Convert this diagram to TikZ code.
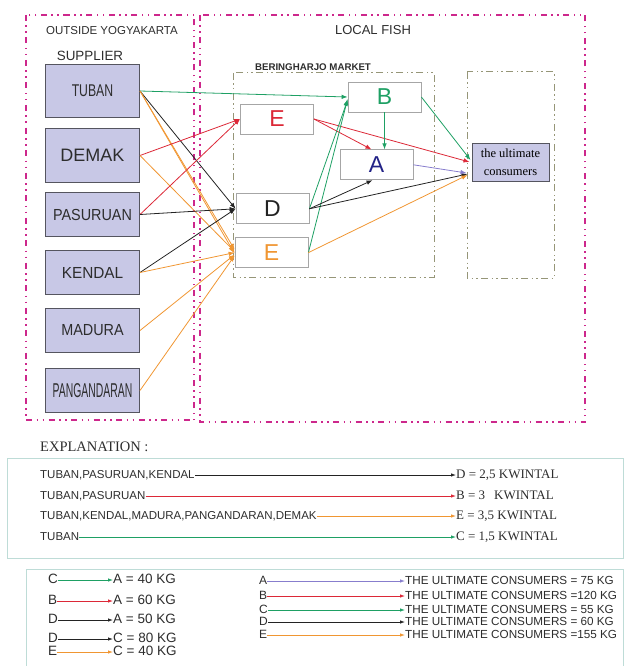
\documentclass[tikz,border=0pt]{standalone}
\usepackage{fontspec}
\setmainfont{Liberation Sans}
\newfontfamily\serifface{Liberation Serif}
\usetikzlibrary{arrows.meta,positioning}
\newcommand{\fsize}[1]{\fontsize{#1}{#1}\selectfont}
\newcommand{\narrow}[2]{\scalebox{#1}[1]{#2}}
\definecolor{lavender}{RGB}{200, 200, 230}
\definecolor{boxline}{RGB}{85, 85, 95}
\definecolor{green}{RGB}{30, 160, 100}
\definecolor{red}{RGB}{220, 40, 55}
\definecolor{orange}{RGB}{240, 150, 50}
\definecolor{darkline}{RGB}{35, 35, 35}
\definecolor{lilac}{RGB}{135, 125, 205}
\definecolor{navy}{RGB}{35, 35, 135}
\definecolor{pinkline}{RGB}{205, 40, 140}
\definecolor{marketline}{RGB}{150, 150, 120}
\definecolor{legendline}{RGB}{190, 220, 215}
\definecolor{textgray}{RGB}{45, 45, 45}
\tikzstyle{supplier} = [rectangle, draw=boxline, line width=1pt, fill=lavender, text=textgray, minimum width=94pt, minimum height=44pt, inner sep=0pt, anchor=north west]
\tikzstyle{stage} = [rectangle, draw=gray!70, line width=0.8pt, fill=white, minimum width=73pt, minimum height=30pt, inner sep=0pt, font=\fsize{23}]
\tikzstyle{region} = [draw=pinkline, line width=1.4pt, dash pattern=on 6pt off 4.5pt on 1.5pt off 4.5pt on 1.5pt off 4.5pt]
\tikzstyle{market} = [draw=marketline, line width=1pt, dash pattern=on 7pt off 3.5pt on 1.5pt off 3pt on 1.5pt off 3.5pt]
\tikzstyle{heading} = [inner sep=0pt, text=textgray]
\tikzstyle{tedge} = [draw, line width=0.8pt, -{Latex[length=6pt,width=4.5pt]}]
\tikzstyle{kedge} = [draw, line width=0.8pt, -{Latex[length=5pt,width=3.5pt]}]
\tikzstyle{keytext} = [inner sep=0pt, anchor=west, text=textgray, text height=8pt, text depth=1pt]

\begin{document}
\begin{tikzpicture}[x=1pt, y=-1pt]
\useasboundingbox (0,0) rectangle (624,666);

% regions =============================
\path[region] (26,15) rectangle (194,420);
\path[region] (200,15) rectangle (585,422);
\path[market] (233,73) rectangle (434,277);
\path[market] (467,72) rectangle (554,278);

\node[heading, font=\fsize{11.5}] (outside) at (112,31) {OUTSIDE YOGYAKARTA};
\node[heading, font=\fsize{13.4}] (supplier-title) at (90,56) {SUPPLIER};
\node[heading, font=\fsize{13}] (local) at (373,30) {LOCAL FISH};
\node[heading, font=\bfseries\fsize{9.7}] (market-title) at (313,67) {BERINGHARJO MARKET};

% Suppliers =============================
\node[supplier, minimum height=53pt, font=\fsize{17}] (tuban) at (45,64) {\narrow{0.72}{TUBAN}};
\node[supplier, minimum height=54pt, font=\fsize{18}, below=10pt of tuban] (demak) {DEMAK};
\node[supplier, font=\fsize{16}, below=9pt of demak] (pasuruan) {\narrow{0.9}{PASURUAN}};
\node[supplier, font=\fsize{16}, below=13pt of pasuruan] (kendal) {\narrow{0.96}{KENDAL}};
\node[supplier, font=\fsize{16}, below=13pt of kendal] (madura) {\narrow{0.9}{MADURA}};
\node[supplier, font=\fsize{20}, below=15pt of madura] (pangandaran) {\narrow{0.52}{PANGANDARAN}};

% Market =============================
\node[stage, text=green] (b) at (384.5,97) {B};
\node[stage, text=red] (e-red) at (277,119) {E};
\node[stage, text=navy, below=37pt of b, xshift=-8pt] (a) {A};
\node[stage, text=darkline, below=59pt of e-red, xshift=-4.5pt] (d) {D};
\node[stage, text=orange, below=13pt of d, xshift=-1pt] (e-orange) {E};

\node[rectangle, draw=boxline, line width=1pt, fill=lavender, minimum width=77pt, minimum height=38pt, inner sep=0pt, align=center, font=\serifface\fontsize{12.5}{18}\selectfont] (cons) at (510.5,162) {the ultimate\\consumers};

% edges
\path[tedge, green] (tuban.east) -- (b.west);
\path[tedge, darkline] (tuban.east) -- (d.west);
\path[tedge, orange] (tuban.east) -- ([yshift=3pt]e-orange.west);
\path[tedge, orange] (tuban.east) -- ([yshift=-1pt]e-orange.west);
\path[tedge, red] (demak.east) -- (e-red.west);
\path[tedge, orange] (demak.east) -- ([yshift=1pt]e-orange.west);
\path[tedge, red] (pasuruan.east) -- (e-red.west);
\path[tedge, darkline] (pasuruan.east) -- (d.west);
\path[tedge, darkline] (kendal.east) -- (d.west);
\path[tedge, orange] (kendal.east) -- (e-orange.west);
\path[tedge, orange] (madura.east) -- ([yshift=-2pt]e-orange.west);
\path[tedge, orange] (pangandaran.east) -- ([yshift=-3pt]e-orange.west);

\path[tedge, red] (e-red.east) -- ([xshift=-5pt]a.north);
\path[tedge, red] (e-red.east) -- ([xshift=-2pt]cons.west);
\path[tedge, green] (b.south) -- (b.south |- a.north);
\path[tedge, green] (b.east) -- ([xshift=-1pt, yshift=2pt]cons.west);
\path[tedge, green] (d.east) -- ([yshift=-3pt]b.west);
\path[tedge, green] (e-orange.east) -- ([yshift=-2pt]b.west);
\path[tedge, darkline] (d.east) -- ([xshift=-4pt]a.south);
\path[tedge, darkline] (d.east) -- ([xshift=-4pt, yshift=-12pt]cons.west);
\path[tedge, lilac] (a.east) -- ([xshift=-5pt, yshift=-11pt]cons.west);
\path[tedge, orange] (e-orange.east) -- ([xshift=-4pt, yshift=-13pt]cons.west);

% Explanation =============================
\node[heading, anchor=west, font=\serifface\fsize{14.5}] (explanation) at (40,447) {EXPLANATION :};
\draw[legendline, line width=1pt] (7,458) rectangle (623,558);

\node[keytext, font=\fsize{11.5}] (k1-from) at (40,475) {TUBAN,PASURUAN,KENDAL};
\node[keytext, font=\serifface\fsize{13}] (k1-to) at (456,475) {D = 2,5 KWINTAL};
\node[keytext, font=\fsize{11.5}] (k2-from) at (40,496) {TUBAN,PASURUAN};
\node[keytext, font=\serifface\fsize{13}] (k2-to) at (456,496) {B = 3\hspace{9pt}KWINTAL};
\node[keytext, font=\fsize{11.5}] (k3-from) at (40,516) {TUBAN,KENDAL,MADURA,PANGANDARAN,DEMAK};
\node[keytext, font=\serifface\fsize{13}] (k3-to) at (456,516) {E = 3,5 KWINTAL};
\node[keytext, font=\fsize{11.5}] (k4-from) at (40,537) {TUBAN};
\node[keytext, font=\serifface\fsize{13}] (k4-to) at (456,537) {C = 1,5 KWINTAL};

\path[kedge, darkline] (k1-from) -- (k1-to);
\path[kedge, red] (k2-from) -- (k2-to);
\path[kedge, orange] (k3-from) -- (k3-to);
\path[kedge, green] (k4-from) -- (k4-to);

% Flows in KG =============================
\draw[legendline, line width=1pt] (26,666) -- (26,569) -- (623,569) -- (623,666);

\node[keytext, font=\fsize{13.5}] (m1-from) at (48,580) {C};
\node[keytext, font=\fsize{13.5}] (m1-to) at (113,580) {A = 40 KG};
\node[keytext, font=\fsize{13.5}] (m2-from) at (48,601) {B};
\node[keytext, font=\fsize{13.5}] (m2-to) at (113,601) {A = 60 KG};
\node[keytext, font=\fsize{13.5}] (m3-from) at (48,620) {D};
\node[keytext, font=\fsize{13.5}] (m3-to) at (113,620) {A = 50 KG};
\node[keytext, font=\fsize{13.5}] (m4-from) at (48,639) {D};
\node[keytext, font=\fsize{13.5}] (m4-to) at (113,639) {C = 80 KG};
\node[keytext, font=\fsize{13.5}] (m5-from) at (48,652) {E};
\node[keytext, font=\fsize{13.5}] (m5-to) at (113,652) {C = 40 KG};

\path[kedge, green] (m1-from) -- (m1-to);
\path[kedge, red] (m2-from) -- (m2-to);
\path[kedge, darkline] (m3-from) -- (m3-to);
\path[kedge, darkline] (m4-from) -- (m4-to);
\path[kedge, orange] (m5-from) -- (m5-to);

\node[keytext, font=\fsize{12}] (n1-from) at (259,581) {A};
\node[keytext, font=\fsize{11.7}] (n1-to) at (405,581) {THE ULTIMATE CONSUMERS = 75 KG};
\node[keytext, font=\fsize{12}] (n2-from) at (259,596) {B};
\node[keytext, font=\fsize{11.7}] (n2-to) at (405,596) {THE ULTIMATE CONSUMERS =120 KG};
\node[keytext, font=\fsize{12}] (n3-from) at (259,610) {C};
\node[keytext, font=\fsize{11.7}] (n3-to) at (405,610) {THE ULTIMATE CONSUMERS = 55 KG};
\node[keytext, font=\fsize{12}] (n4-from) at (259,622) {D};
\node[keytext, font=\fsize{11.7}] (n4-to) at (405,622) {THE ULTIMATE CONSUMERS = 60 KG};
\node[keytext, font=\fsize{12}] (n5-from) at (259,635) {E};
\node[keytext, font=\fsize{11.7}] (n5-to) at (405,635) {THE ULTIMATE CONSUMERS =155 KG};

\path[kedge, lilac] (n1-from) -- (n1-to);
\path[kedge, red] (n2-from) -- (n2-to);
\path[kedge, green] (n3-from) -- (n3-to);
\path[kedge, darkline] (n4-from) -- (n4-to);
\path[kedge, orange] (n5-from) -- (n5-to);

\end{tikzpicture}
\end{document}
